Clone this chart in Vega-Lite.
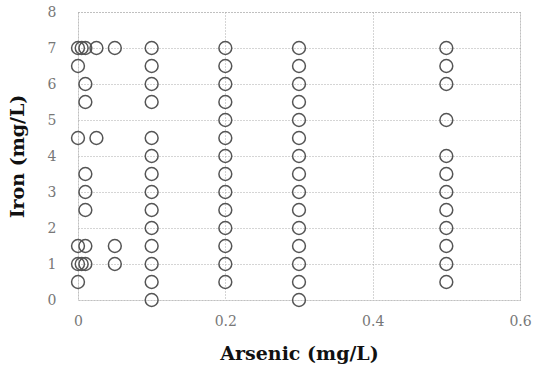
{
  "$schema": "https://vega.github.io/schema/vega-lite/v6.json",
  "width": 442,
  "height": 288,
  "autosize": {"type": "none"},
  "padding": {"left": 78, "top": 12, "right": 22, "bottom": 74},
  "background": "white",
  "config": {
    "view": {"stroke": "#aaa", "strokeDash": [1, 2], "strokeWidth": 1},
    "axis": {
      "labelFont": "DejaVu Serif",
      "labelFontSize": 14,
      "labelColor": "#777",
      "titleFont": "DejaVu Serif",
      "titleFontSize": 19,
      "titleFontWeight": "bold",
      "titleColor": "#111",
      "domain": false,
      "ticks": false,
      "gridColor": "#aaa",
      "gridDash": [1, 2],
      "gridWidth": 1,
      "gridOpacity": 1
    }
  },
  "data": {
    "values": [
      {"as": 0, "fe": 7}, {"as": 0.005, "fe": 7}, {"as": 0.01, "fe": 7}, {"as": 0.025, "fe": 7}, {"as": 0.05, "fe": 7},
      {"as": 0, "fe": 6.5},
      {"as": 0.01, "fe": 6},
      {"as": 0.01, "fe": 5.5},
      {"as": 0, "fe": 4.5}, {"as": 0.025, "fe": 4.5},
      {"as": 0.01, "fe": 3.5},
      {"as": 0.01, "fe": 3},
      {"as": 0.01, "fe": 2.5},
      {"as": 0, "fe": 1.5}, {"as": 0.01, "fe": 1.5}, {"as": 0.05, "fe": 1.5},
      {"as": 0, "fe": 1}, {"as": 0.005, "fe": 1}, {"as": 0.01, "fe": 1}, {"as": 0.05, "fe": 1},
      {"as": 0, "fe": 0.5},
      {"as": 0.1, "fe": 7}, {"as": 0.1, "fe": 6.5}, {"as": 0.1, "fe": 6}, {"as": 0.1, "fe": 5.5},
      {"as": 0.1, "fe": 4.5}, {"as": 0.1, "fe": 4}, {"as": 0.1, "fe": 3.5}, {"as": 0.1, "fe": 3},
      {"as": 0.1, "fe": 2.5}, {"as": 0.1, "fe": 2}, {"as": 0.1, "fe": 1.5}, {"as": 0.1, "fe": 1},
      {"as": 0.1, "fe": 0.5}, {"as": 0.1, "fe": 0},
      {"as": 0.2, "fe": 7}, {"as": 0.2, "fe": 6.5}, {"as": 0.2, "fe": 6}, {"as": 0.2, "fe": 5.5},
      {"as": 0.2, "fe": 5}, {"as": 0.2, "fe": 4.5}, {"as": 0.2, "fe": 4}, {"as": 0.2, "fe": 3.5},
      {"as": 0.2, "fe": 3}, {"as": 0.2, "fe": 2.5}, {"as": 0.2, "fe": 2}, {"as": 0.2, "fe": 1.5},
      {"as": 0.2, "fe": 1}, {"as": 0.2, "fe": 0.5},
      {"as": 0.3, "fe": 7}, {"as": 0.3, "fe": 6.5}, {"as": 0.3, "fe": 6}, {"as": 0.3, "fe": 5.5},
      {"as": 0.3, "fe": 5}, {"as": 0.3, "fe": 4.5}, {"as": 0.3, "fe": 4}, {"as": 0.3, "fe": 3.5},
      {"as": 0.3, "fe": 3}, {"as": 0.3, "fe": 2.5}, {"as": 0.3, "fe": 2}, {"as": 0.3, "fe": 1.5},
      {"as": 0.3, "fe": 1}, {"as": 0.3, "fe": 0.5}, {"as": 0.3, "fe": 0},
      {"as": 0.5, "fe": 7}, {"as": 0.5, "fe": 6.5}, {"as": 0.5, "fe": 6}, {"as": 0.5, "fe": 5},
      {"as": 0.5, "fe": 4}, {"as": 0.5, "fe": 3.5}, {"as": 0.5, "fe": 3}, {"as": 0.5, "fe": 2.5},
      {"as": 0.5, "fe": 2}, {"as": 0.5, "fe": 1.5}, {"as": 0.5, "fe": 1}, {"as": 0.5, "fe": 0.5}
    ]
  },
  "mark": {"type": "point", "shape": "circle", "filled": false, "size": 165, "stroke": "#555", "strokeWidth": 1.5, "opacity": 1, "clip": false},
  "encoding": {
    "x": {
      "field": "as", "type": "quantitative",
      "scale": {"domain": [0, 0.6], "nice": false, "zero": true},
      "axis": {"title": "Arsenic (mg/L)", "values": [0, 0.2, 0.4, 0.6], "labelPadding": 14, "titlePadding": 16, "labelFlush": false, "labelExpr": "datum.value == 0 ? '0' : format(datum.value, '.1f')"}
    },
    "y": {
      "field": "fe", "type": "quantitative",
      "scale": {"domain": [0, 8], "nice": false},
      "axis": {"title": "Iron (mg/L)", "values": [0, 1, 2, 3, 4, 5, 6, 7, 8], "labelPadding": 22, "titlePadding": 20, "labelFlush": false}
    }
  }
}
